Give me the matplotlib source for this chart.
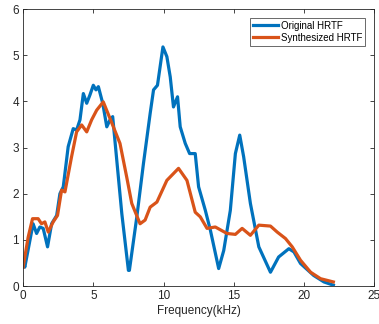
import matplotlib
matplotlib.use("Agg")
import matplotlib.pyplot as plt

plt.rcParams['font.family'] = ['Liberation Sans', 'DejaVu Sans']

orig_f = [0.0, 0.12, 0.71, 0.96, 1.19, 1.43, 1.74, 2.03, 2.39, 2.62, 2.86, 3.21, 3.57, 3.81, 4.05,
          4.29, 4.53, 4.76, 5.0, 5.19, 5.36, 5.67, 5.96, 6.19, 6.38, 6.67, 7.03, 7.5, 7.57,
          8.1, 8.57, 9.05, 9.29, 9.57, 9.96, 10.24, 10.48, 10.71, 11.0, 11.19, 11.55, 11.86,
          12.26, 12.5, 12.98, 13.34, 13.93, 14.29, 14.76, 15.12, 15.43, 15.71, 16.19, 16.79,
          17.62, 18.2, 18.93, 19.29, 19.76, 20.7, 21.43, 22.1]
orig_v = [0.56, 0.41, 1.35, 1.14, 1.28, 1.25, 0.85, 1.35, 1.53, 2.0, 2.15, 3.02, 3.41, 3.38, 3.6,
          4.17, 3.96, 4.14, 4.35, 4.25, 4.32, 3.96, 3.45, 3.6, 3.67, 2.73, 1.57, 0.34, 0.34,
          1.5, 2.65, 3.74, 4.25, 4.35, 5.18, 4.97, 4.53, 3.88, 4.1, 3.45, 3.09, 2.87,
          2.87, 2.15, 1.64, 1.21, 0.38, 0.77, 1.64, 2.87, 3.27, 2.8, 1.79, 0.85,
          0.3, 0.63, 0.81, 0.74, 0.49, 0.23, 0.09, 0.02]

synth_f = [0.0, 0.36, 0.67, 1.07, 1.31, 1.55, 1.79, 2.14, 2.45, 2.74, 2.98, 3.45, 3.81, 4.17,
           4.53, 4.88, 5.24, 5.71, 6.19, 6.9, 7.38, 7.74, 8.33, 8.69, 9.05, 9.53, 10.24,
           11.07, 11.67, 12.26, 12.62, 13.1, 13.69, 14.52, 15.12, 15.6, 16.19, 16.79, 17.62,
           18.1, 18.69, 19.17, 19.76, 20.48, 21.19, 22.1]
synth_v = [0.41, 1.06, 1.46, 1.46, 1.35, 1.39, 1.17, 1.39, 1.53, 2.08, 2.04, 2.8, 3.34, 3.49,
           3.34, 3.6, 3.81, 3.99, 3.63, 3.09, 2.36, 1.79, 1.35, 1.43, 1.71, 1.82, 2.29,
           2.55, 2.29, 1.6, 1.5, 1.25, 1.28, 1.14, 1.12, 1.25, 1.1, 1.32, 1.3,
           1.17, 1.03, 0.85, 0.56, 0.3, 0.16, 0.09]

xticks = [0, 5, 10, 15, 20, 25]
yticks = [0, 1, 2, 3, 4, 5, 6]

fig = plt.figure(figsize=(3.79, 3.24), dpi=100)
ax = fig.add_axes([0.061, 0.117, 0.926, 0.855])
ax.plot(orig_f, orig_v, color='#0072BD', lw=2.3, label='Original HRTF')
ax.plot(synth_f, synth_v, color='#D95319', lw=2.3, label='Synthesized HRTF')
ax.set_xlim(0, 25)
ax.set_ylim(0, 6)
ax.set_xticks(xticks)
ax.set_yticks(yticks)
ax.tick_params(direction='in', top=True, right=True, length=3, width=0.6,
               colors='#262626', labelsize=8.5, pad=3)
for s in ax.spines.values():
    s.set_color('#262626')
    s.set_linewidth(0.6)
ax.set_xlabel('Frequency(kHz)', fontsize=8.5, color='#262626', labelpad=2)
leg = ax.legend(loc='upper right', fontsize=7, frameon=True, fancybox=False,
                edgecolor='#262626', handlelength=2.6, borderaxespad=0.9,
                borderpad=0.3, labelspacing=0.2, handletextpad=0.3)
leg.get_frame().set_linewidth(0.6)
fig.savefig('out.png', dpi=100)
